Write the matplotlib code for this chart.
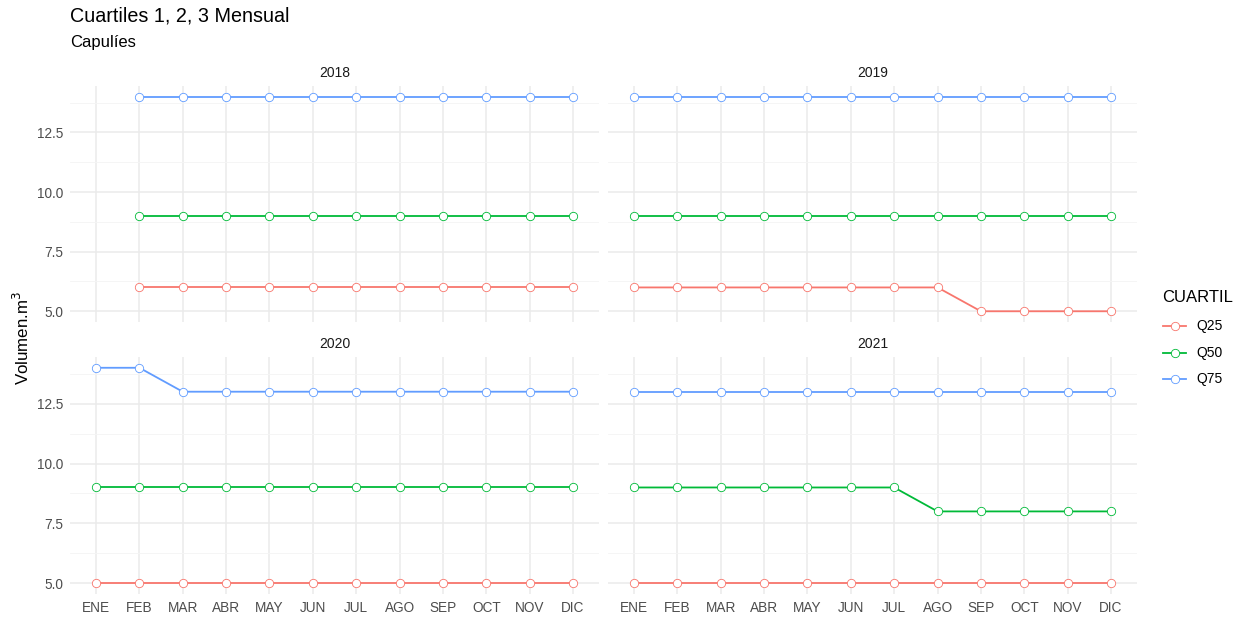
import matplotlib.pyplot as plt
import numpy as np

plt.rcParams['font.family'] = ['Liberation Sans', 'DejaVu Sans']

meses = ['ENE', 'FEB', 'MAR', 'ABR', 'MAY', 'JUN', 'JUL', 'AGO', 'SEP', 'OCT', 'NOV', 'DIC']
anios = ['2018', '2019', '2020', '2021']
cuartiles = ['Q25', 'Q50', 'Q75']
colores = ['#F8766D', '#00BA38', '#619CFF']

nan = np.nan
q25 = {
    '2018': [nan, 6, 6, 6, 6, 6, 6, 6, 6, 6, 6, 6],
    '2019': [6, 6, 6, 6, 6, 6, 6, 6, 5, 5, 5, 5],
    '2020': [5, 5, 5, 5, 5, 5, 5, 5, 5, 5, 5, 5],
    '2021': [5, 5, 5, 5, 5, 5, 5, 5, 5, 5, 5, 5],
}
q50 = {
    '2018': [nan, 9, 9, 9, 9, 9, 9, 9, 9, 9, 9, 9],
    '2019': [9, 9, 9, 9, 9, 9, 9, 9, 9, 9, 9, 9],
    '2020': [9, 9, 9, 9, 9, 9, 9, 9, 9, 9, 9, 9],
    '2021': [9, 9, 9, 9, 9, 9, 9, 8, 8, 8, 8, 8],
}
q75 = {
    '2018': [nan, 14, 14, 14, 14, 14, 14, 14, 14, 14, 14, 14],
    '2019': [14, 14, 14, 14, 14, 14, 14, 14, 14, 14, 14, 14],
    '2020': [14, 14, 13, 13, 13, 13, 13, 13, 13, 13, 13, 13],
    '2021': [13, 13, 13, 13, 13, 13, 13, 13, 13, 13, 13, 13],
}
series = [q25, q50, q75]

W, H = 1240, 619
fig = plt.figure(figsize=(W / 100, H / 100), dpi=100)

# panel boxes in pixels: left, top, right, bottom
cajas = {
    '2018': (70, 86, 599, 322),
    '2019': (608, 86, 1137, 322),
    '2020': (70, 357, 599, 594),
    '2021': (608, 357, 1137, 594),
}

x = np.arange(len(meses))
for anio in anios:
    l, t, r, b = cajas[anio]
    ax = fig.add_axes([l / W, 1 - b / H, (r - l) / W, (b - t) / H])
    for s, c in zip(series, colores):
        ax.plot(x, s[anio], color=c, lw=1.3, marker='o', ms=6,
                mfc='white', mec=c, mew=0.6, zorder=3)
    ax.set_xlim(-0.6, 11.6)
    ax.set_ylim(4.55, 14.45)
    ax.set_yticks([5, 7.5, 10, 12.5])
    ax.set_yticks([6.25, 8.75, 11.25, 13.75], minor=True)
    ax.set_xticks(x)
    ax.grid(True, which='major', color='#EBEBEB', lw=1.1)
    ax.grid(True, which='minor', axis='y', color='#F4F4F4', lw=0.6)
    ax.set_axisbelow(True)
    for sp in ax.spines.values():
        sp.set_visible(False)
    ax.tick_params(length=0, labelsize=9.8, labelcolor='#4D4D4D', pad=5)
    ax.tick_params(which='minor', length=0)
    if anio in ('2020', '2021'):
        ax.set_xticklabels(meses)
    else:
        ax.set_xticklabels([])
    if anio in ('2018', '2020'):
        ax.set_yticklabels(['5.0', '7.5', '10.0', '12.5'])
    else:
        ax.set_yticklabels([])
    fig.text((l + r) / 2 / W, 1 - (t - 13) / H, anio, ha='center', va='center',
             fontsize=10, color='#1A1A1A')

fig.text(70 / W, 1 - 16 / H, 'Cuartiles 1, 2, 3 Mensual', ha='left', va='center',
         fontsize=14.2)
fig.text(70 / W, 1 - 43 / H, 'Capulíes', ha='left', va='center', fontsize=12)
fig.text(22 / W, 1 - 338 / H, 'Volumen.m$^3$', rotation=90, ha='center', va='center',
         fontsize=12.2)

# legend
fig.text(1162 / W, 1 - 297 / H, 'CUARTIL', ha='left', va='center', fontsize=12)
for i, (q, c) in enumerate(zip(cuartiles, colores)):
    yy = 1 - (326 + i * 26.5) / H
    fig.add_artist(plt.Line2D([1163 / W, 1186 / W], [yy, yy], color=c, lw=1.3))
    fig.add_artist(plt.Line2D([1174.5 / W], [yy], marker='o', ms=6, mfc='white',
                              mec=c, mew=0.6, lw=0))
    fig.text(1196 / W, yy, q, ha='left', va='center', fontsize=10)

fig.savefig('out.png', dpi=100)
